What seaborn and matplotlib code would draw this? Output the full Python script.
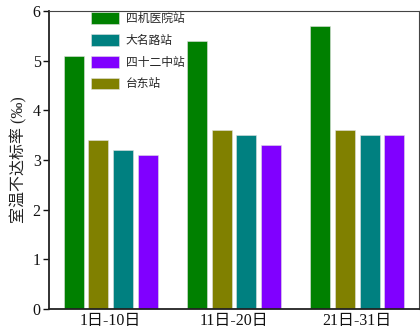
import matplotlib
matplotlib.use("Agg")
import matplotlib.pyplot as plt
import seaborn as sns
import pandas as pd

periods = ["1日-10日", "11日-20日", "21日-31日"]
stations = ["四机医院站", "台东站", "大名路站", "四十二中站"]
sijiyiyuan = [5.1, 5.4, 5.7]
taidong = [3.4, 3.6, 3.6]
daminglu = [3.2, 3.5, 3.5]
sishierzhong = [3.1, 3.3, 3.5]
colors = ["#008000", "#808000", "#008080", "#8000FF"]
legend_order = ["四机医院站", "大名路站", "四十二中站", "台东站"]

series = [sijiyiyuan, taidong, daminglu, sishierzhong]
rows = []
for st, vals in zip(stations, series):
    for p, v in zip(periods, vals):
        rows.append({"period": p, "station": st, "value": v})
df = pd.DataFrame(rows)

sns.set_style("ticks")
fam = ["Liberation Serif", "Noto Sans CJK SC"]
plt.rcParams["font.family"] = fam

fig = plt.figure(figsize=(4.2, 3.3), dpi=100)
ax = fig.add_axes([49/420, 1-309/330, 370/420, 298/330])

sns.barplot(data=df, x="period", y="value", hue="station", order=periods,
            hue_order=stations, palette=colors, width=0.8, gap=0.2,
            saturation=1, edgecolor="#e0e0e0", linewidth=0.4, ax=ax, legend=True)

ax.set_ylim(0, 6)
ax.set_xlim(-0.5, 2.5)
ax.set_yticks(range(0, 7))
ax.set_xlabel("")
ax.set_ylabel("室温不达标率 (‰)", fontsize=11.5, family=fam, color="#222222", labelpad=4)
ax.tick_params(axis="y", direction="out", length=4, width=1.0, labelsize=11.5, pad=2, colors="#111111")
ax.tick_params(axis="x", length=0, labelsize=11.5, pad=3, colors="#111111")
for lab in ax.get_xticklabels() + ax.get_yticklabels():
    lab.set_family(fam)

for s in ["left", "bottom"]:
    ax.spines[s].set_linewidth(1.3)
    ax.spines[s].set_color("#222222")
for s in ["top", "right"]:
    ax.spines[s].set_visible(True)
    ax.spines[s].set_linewidth(0.8)
    ax.spines[s].set_color("#444444")

handles, labels = ax.get_legend_handles_labels()
hmap = dict(zip(labels, handles))
ax.legend([hmap[l] for l in legend_order], legend_order, loc="upper left",
          bbox_to_anchor=(0.113, 0.995), frameon=False, borderaxespad=0, borderpad=0,
          prop={"family": fam, "size": 8.5}, labelspacing=0.75, handlelength=2.4,
          handleheight=1.15, handletextpad=0.55)

fig.savefig("out.png", dpi=100)
